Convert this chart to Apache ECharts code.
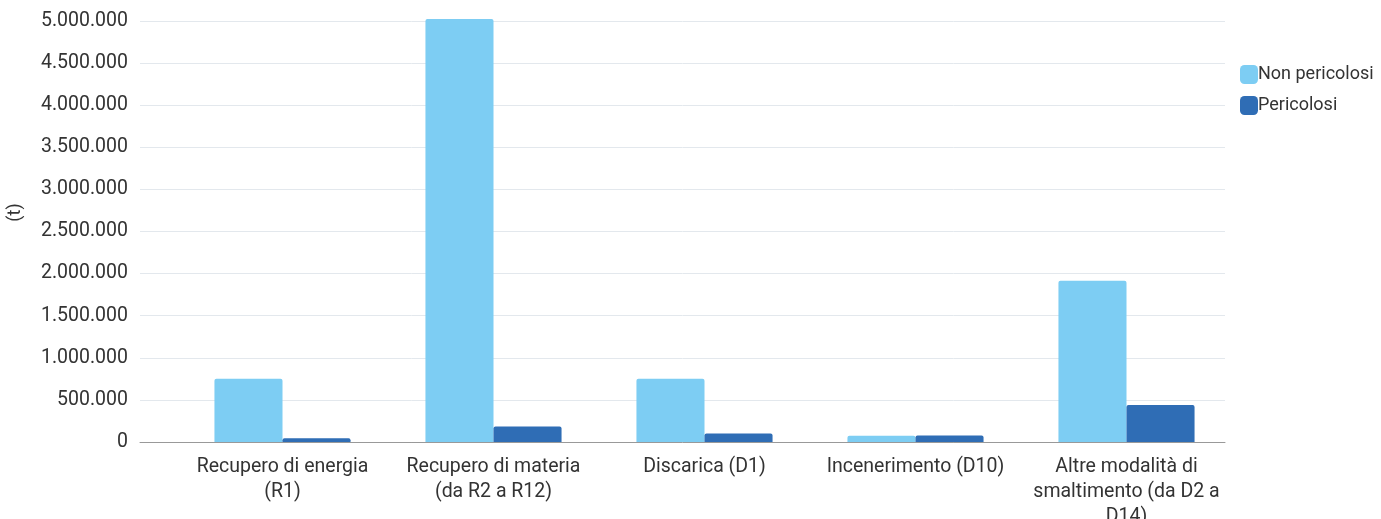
<!DOCTYPE html>
<html>
<head>
<meta charset="utf-8">
<script src="https://cdn.jsdelivr.net/npm/echarts@6/dist/echarts.min.js"></script>
<style>
  html, body { margin: 0; padding: 0; background: #fff; }
  #chart { width: 1381px; height: 519px; }
</style>
</head>
<body>
<div id="chart"></div>
<script>
var categories = [
	'Recupero di energia\n(R1)',
	'Recupero di materia\n(da R2 a R12)',
	'Discarica (D1)',
	'Incenerimento (D10)',
	'Altre modalità di\nsmaltimento (da D2 a\nD14)'
];
var nonPericolosi = [750000, 5025000, 750000, 75000, 1915000];
var pericolosi = [45000, 185000, 100000, 78000, 440000];
var yTicks = { min: 0, max: 5000000, interval: 500000 };

var chart = echarts.init(document.getElementById('chart'));
var fmt = function (v) {
	return String(v).replace(/\B(?=(\d{3})+(?!\d))/g, '.');
};
var option = {
	animation: false,
	textStyle: { fontFamily: 'Roboto' },
	color: ['#7dcdf3', '#2f6db5'],
	legend: {
		orient: 'vertical',
		left: 1235,
		top: 60,
		icon: 'roundRect',
		itemWidth: 18,
		itemHeight: 19,
		itemGap: 12,
		textStyle: { fontSize: 18, color: '#333', padding: [0, 0, 0, -5] },
		data: ['Non pericolosi', 'Pericolosi']
	},
	grid: [
		{ left: 140, right: 156, top: 21, bottom: 77, outerBoundsMode: 'none' },
		{ left: 177, width: 1055, top: 21, bottom: 77, outerBoundsMode: 'none' }
	],
	xAxis: [
		{
			type: 'category', gridIndex: 0, data: [''],
			axisLine: { lineStyle: { color: '#999' } },
			axisTick: { show: false }, axisLabel: { show: false }
		},
		{
			type: 'category', gridIndex: 1, data: categories,
			axisLine: { show: false }, axisTick: { show: false },
			axisLabel: { fontSize: 19.5, color: '#333', lineHeight: 25, margin: 13, interval: 0 }
		}
	],
	yAxis: [
		{
			type: 'value', gridIndex: 0,
			min: yTicks.min, max: yTicks.max, interval: yTicks.interval,
			name: '(t)', nameLocation: 'middle', nameGap: 116, nameRotate: 90,
			nameTextStyle: { fontSize: 18, color: '#333', padding: [0, 0, 0, 38] },
			axisLabel: { fontSize: 19.5, color: '#333', margin: 12, formatter: fmt },
			splitLine: { lineStyle: { color: '#e3e8ed' } }
		},
		{
			type: 'value', gridIndex: 1, show: false,
			min: yTicks.min, max: yTicks.max, interval: yTicks.interval
		}
	],
	series: [
		{
			name: 'Non pericolosi', type: 'bar', xAxisIndex: 1, yAxisIndex: 1,
			data: nonPericolosi, barGap: '0%', barCategoryGap: '35.5%', clip: false,
			itemStyle: { borderRadius: [2, 2, 0, 0] }
		},
		{
			name: 'Pericolosi', type: 'bar', xAxisIndex: 1, yAxisIndex: 1,
			data: pericolosi, barGap: '0%', barCategoryGap: '35.5%', clip: false,
			itemStyle: { borderRadius: [2, 2, 0, 0] }
		}
	]
};
chart.setOption(option);
</script>
</body>
</html>
